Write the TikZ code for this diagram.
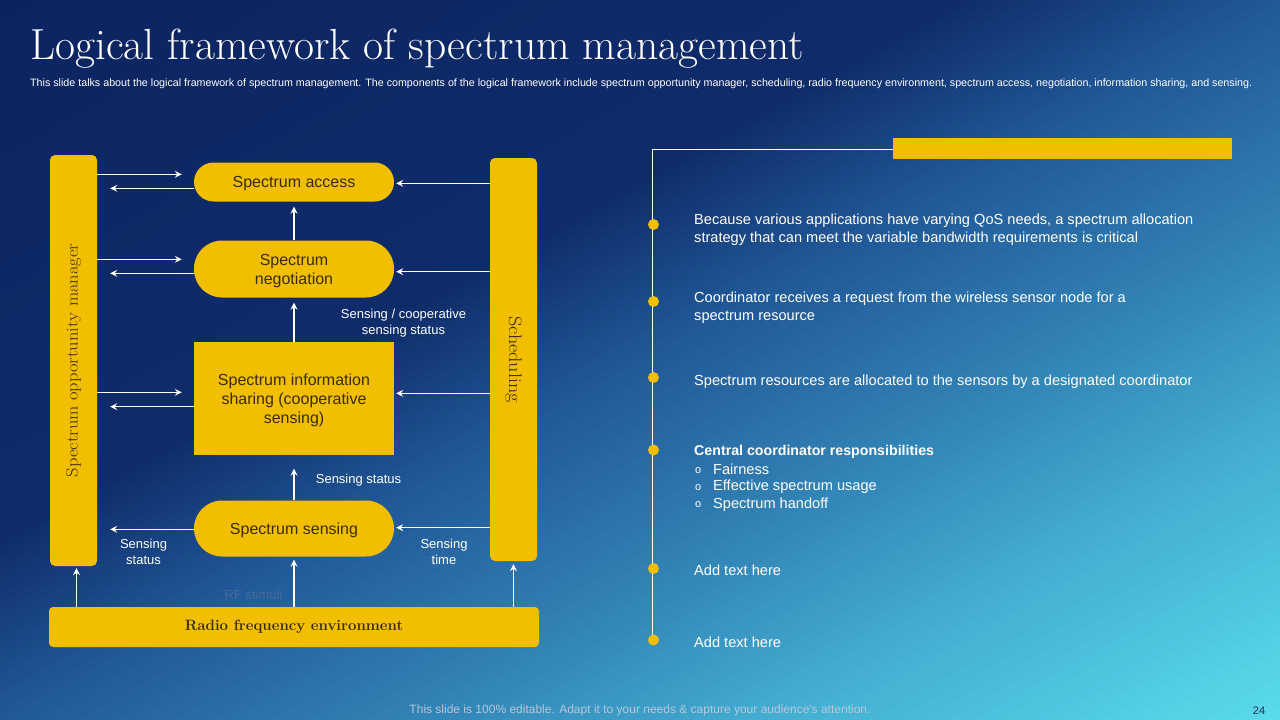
\documentclass[tikz,border=0pt]{standalone}
\usepackage{fontspec}
\newfontfamily\sansf{Liberation Sans}
\newfontfamily\wideserif{Latin Modern Roman}[FakeStretch=1.12]
\usetikzlibrary{arrows.meta,calc}
\definecolor{ylw}{HTML}{F2BE00}
\definecolor{dtxt}{HTML}{3A2C05}
\definecolor{bgA}{HTML}{0B2461}
\definecolor{bgB}{HTML}{0F2C6A}
\definecolor{bgC}{HTML}{215898}
\definecolor{bgD}{HTML}{3180B4}
\definecolor{bgE}{HTML}{43AED2}
\definecolor{bgF}{HTML}{5ADCEA}
\definecolor{faint}{HTML}{4A6A96}
\definecolor{foot}{HTML}{B4C8DA}
\definecolor{pgnum}{HTML}{1C2C50}
\tikzset{
  ybox/.style={fill=ylw, text=dtxt, font=\sansf\fontsize{16}{19}\selectfont, align=center, minimum width=200pt, inner sep=0pt, text depth=0pt},
  ybar/.style={fill=ylw, rounded corners=5pt, inner sep=0pt},
  arr/.style={white, line width=1.1pt, -{Stealth[length=7pt,width=7pt,inset=2.5pt]}},
  lbl/.style={text=white, font=\sansf\fontsize{13}{16}\selectfont, align=center, inner sep=0pt},
  rtxt/.style={text=white, font=\sansf\fontsize{14.6}{17.6}\selectfont, anchor=west, align=left, inner sep=0pt},
  ydot/.style={circle, fill=ylw, minimum size=11pt, inner sep=0pt},
}
\begin{document}
\begin{tikzpicture}[x=1pt,y=-1pt]
\useasboundingbox (0,0) rectangle (1280,720);
% background gradient
\begin{scope}
\clip (0,0) rectangle (1280,720);
\foreach \a/\b/\ca/\cb in {0/0.75/bgA/bgB, 0.75/1.0/bgB/bgC, 1.0/1.3/bgC/bgD, 1.3/1.6/bgD/bgE, 1.6/2.0/bgE/bgF}{
  \foreach \i in {0,...,19}{
    \pgfmathsetmacro\ta{\a+(\b-\a)*\i/20}
    \pgfmathsetmacro\tb{\a+(\b-\a)*(\i+1.6)/20}
    \pgfmathsetmacro\p{100*(\i+0.5)/20}
    \colorlet{bandc}{\cb!\p!\ca}
    \fill[bandc] ({1280*(\ta+1)},-720) -- ({1280*(\ta-3)},2160) -- ({1280*(\tb-3)},2160) -- ({1280*(\tb+1)},-720) -- cycle;
  }
}
\end{scope}
% title
\node[anchor=base west, inner sep=0pt, text=white, font=\fontsize{43.5}{46}\selectfont] (title) at (30,59) {Logical framework of spectrum management};
\node[anchor=base west, inner sep=0pt, text=white, font=\sansf\fontsize{10.7}{12}\selectfont] (sub) at (30,86) {This slide talks about the logical framework of spectrum management. The components of the logical framework include spectrum opportunity manager, scheduling, radio frequency environment, spectrum access, negotiation, information sharing, and sensing.};
% left diagram
\node[ybar, minimum width=47pt, minimum height=411pt] (som) at (73.5,360.5) {};
\node[rotate=90, text=dtxt, font=\wideserif\fontsize{16.5}{18}\selectfont] (somt) at (som.center) {Spectrum opportunity manager};
\node[ybar, minimum width=47pt, minimum height=403pt] (sch) at (513.5,359.5) {};
\node[rotate=-90, text=dtxt, font=\wideserif\fontsize{18}{20}\selectfont] (scht) at (sch.center) {Scheduling};
\node[ybar, rounded corners=4pt, minimum width=490pt, minimum height=40pt, text=dtxt, font=\bfseries\fontsize{15}{18}\selectfont] (rf) at (294,627) {Radio frequency environment};
\node[ybox, rounded corners=19.5pt, minimum height=39pt] (acc) at (294,182) {Spectrum access};
\node[ybox, rounded corners=28pt, minimum height=57pt] (neg) at (294,269) {Spectrum\\negotiation};
\node[ybox, minimum height=113pt] (info) at (294,398.5) {Spectrum information\\sharing (cooperative\\sensing)};
\node[ybox, rounded corners=28pt, minimum height=56pt] (sens) at (294,528.5) {Spectrum sensing};
% horizontal arrows, left side
\foreach \n/\yr/\yl in {acc/174.3/188.3, neg/259.3/273.3, info/392.3/406.7}{
  \draw[arr] (som.east |- 0,\yr) -- ($(\n.west |- 0,\yr)+(-12,0)$);
  \draw[arr] (\n.west |- 0,\yl) -- ($(som.east |- 0,\yl)+(13,0)$);
}
\draw[arr] (sens.west |- 0,529.3) -- ($(som.east |- 0,529.3)+(13,0)$);
% horizontal arrows from scheduling
\foreach \n/\yy in {acc/183.3, neg/271.7, info/393.3, sens/527.7}{
  \draw[arr] (sch.west |- 0,\yy) -- ($(\n.east |- 0,\yy)+(2,0)$);
}
% vertical arrows
\draw[arr] (neg.north) -- ($(acc.south)+(0,5)$);
\draw[arr] (info.north) -- ($(neg.south)+(0,5)$);
\draw[arr] (sens.north) -- ($(info.south)+(0,13.5)$);
\draw[arr] (rf.north) -- ($(sens.south)+(0,3)$);
\draw[arr] ($(rf.north -| som.south)+(3,0)$) -- ($(som.south)+(3,2)$);
\draw[arr] (rf.north -| sch.south) -- ($(sch.south)+(0,3)$);
% labels
\node[lbl] (l1) at (403.5,323) {Sensing / cooperative\\sensing status};
\node[lbl] (l2) at (358.5,480) {Sensing status};
\node[lbl] (l3) at (143.5,552) {Sensing\\status};
\node[lbl] (l4) at (444,552) {Sensing\\time};
\node[lbl, text=faint] (l5) at (253.5,594.5) {RF stimuli};
% right panel
\node[fill=ylw, inner sep=0pt, minimum width=339pt, minimum height=21pt] (hbar) at (1062.5,148.5) {};
\coordinate (lend) at (652.5,640);
\draw[white, line width=0.9pt] (hbar.west |- 0,149.5) -| (lend);
\node[ydot] (d1) at (653.5,224.5) {};
\node[ydot] (d2) at (653.5,301.5) {};
\node[ydot] (d3) at (653.5,377.5) {};
\node[ydot] (d4) at (653.5,450) {};
\node[ydot] (d5) at (653.5,568.5) {};
\node[ydot] (d6) at (653.5,640) {};
\node[rtxt] (t1) at (694,229.5) {Because various applications have varying QoS needs, a spectrum allocation\\strategy that can meet the variable bandwidth requirements is critical};
\node[rtxt] (t2) at (694,307.5) {Coordinator receives a request from the wireless sensor node for a\\spectrum resource};
\node[rtxt] (t3) at (694,382) {Spectrum resources are allocated to the sensors by a designated coordinator};
\node[rtxt, font=\sansf\bfseries\fontsize{14.2}{17.5}\selectfont] (t4) at (694,451.5) {Central coordinator responsibilities};
\node[rtxt, font=\sansf\fontsize{11}{13}\selectfont] (b1) at (695,470.5) {o};
\node[rtxt, font=\sansf\fontsize{11}{13}\selectfont] (b2) at (695,487.5) {o};
\node[rtxt, font=\sansf\fontsize{11}{13}\selectfont] (b3) at (695,505) {o};
\node[rtxt] (t5) at (713,469.5) {Fairness};
\node[rtxt] (t6) at (713,486.5) {Effective spectrum usage};
\node[rtxt] (t7) at (713,504.5) {Spectrum handoff};
\node[rtxt] (t8) at (694,570.5) {Add text here};
\node[rtxt] (t9) at (694,642.5) {Add text here};
% footer
\node[text=foot, inner sep=0pt, font=\sansf\fontsize{12}{13}\selectfont] (foot) at (640,710) {This slide is 100\% editable. Adapt it to your needs \& capture your audience's attention.};
\node[text=pgnum, inner sep=0pt, font=\sansf\fontsize{11}{12}\selectfont] (pg) at (1259,711) {24};
\end{tikzpicture}
\end{document}
